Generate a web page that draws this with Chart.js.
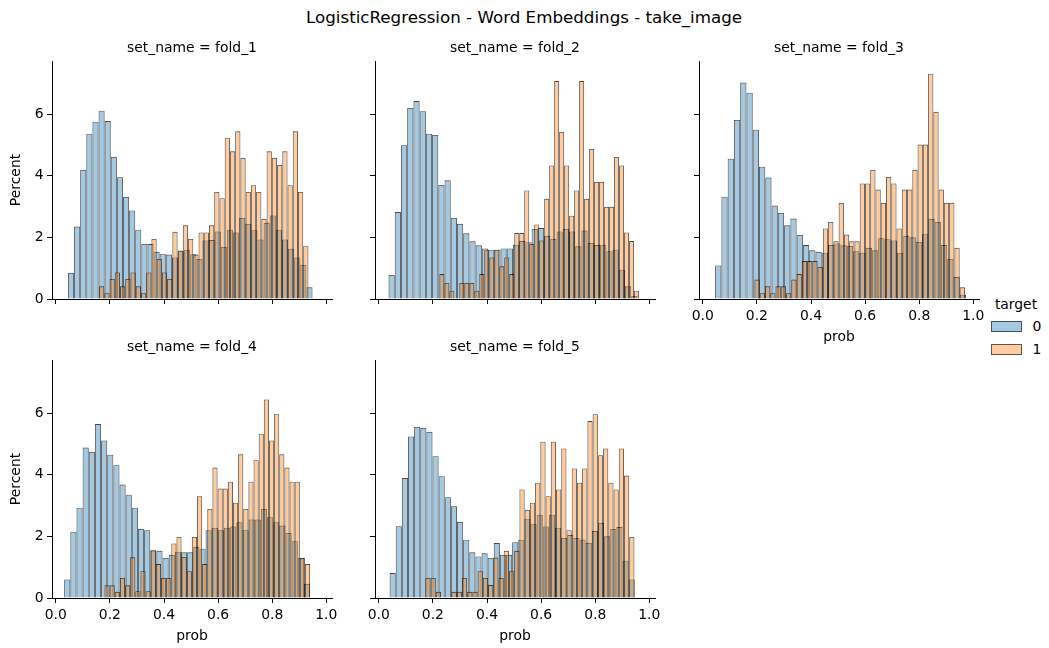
<!DOCTYPE html>
<html lang="en">
<head>
<meta charset="UTF-8">
<title>LogisticRegression - Word Embeddings - take_image</title>
<script src="https://cdn.jsdelivr.net/npm/chart.js"></script>
<style>
    body {
        margin: 0;
        background: #fff;
        font-family: "DejaVu Sans", sans-serif;
    }
    #fig {
        position: relative;
        width: 1049px;
        height: 648px;
        overflow: hidden;
        background: #fff;
    }
    #fig canvas {
        position: absolute;
    }
    .txt {
        position: absolute;
        white-space: nowrap;
        color: #000;
        transform: translate(-50%, -50%);
        font-size: 13.9px;
    }
    .suptitle {
        font-size: 16.7px;
    }
    .patch {
        position: absolute;
        width: 29px;
        height: 9px;
        border: 1px solid rgba(0, 0, 0, 0.6);
    }
</style>
</head>
<body>
<div id="fig">
    <div class="txt suptitle" style="left:524px; top:17px;">LogisticRegression - Word Embeddings - take_image</div>
    <div class="txt" style="left:1016px; top:304px;">target</div>
    <div class="patch" style="left:991px; top:321px; background:rgba(31,119,180,0.4);"></div>
    <div class="txt" style="left:1037px; top:326px;">0</div>
    <div class="patch" style="left:991px; top:344px; background:rgba(255,127,14,0.4);"></div>
    <div class="txt" style="left:1037px; top:349px;">1</div>
</div>

<script>
    // facets, ticks
    const foldNames = ['fold_1', 'fold_2', 'fold_3', 'fold_4', 'fold_5'];
    const xTicks = [0, 0.2, 0.4, 0.6, 0.8, 1.0];
    const yTicks = [0, 2, 4, 6];

    // prob range covered by the 40 bins of each histogram (per fold)
    const binRange0 = [[0.045, 0.949], [0.036, 0.956], [0.0455, 0.973], [0.031, 0.940], [0.040, 0.946]];
    const binRange1 = [[0.160, 0.934], [0.224, 0.962], [0.191, 0.969], [0.180, 0.940], [0.172, 0.945]];

    // percent per bin, target = 0
    const fold1Target0 = [0.85, 2.35, 4.19, 5.36, 5.75, 6.11, 5.77, 4.61, 3.95, 3.31, 2.87, 2.25, 1.79, 1.78, 1.53, 1.47, 1.44, 1.35, 1.55, 1.6, 1.45, 1.30, 1.9, 1.91, 2.19, 1.69, 2.25, 2.16, 2.63, 2.44, 2.23, 1.93, 2.47, 2.71, 2.25, 1.93, 1.63, 1.35, 1.11, 0.38];
    const fold2Target0 = [0.78, 2.82, 4.99, 6.20, 6.42, 6.09, 5.36, 5.32, 3.70, 3.85, 2.63, 2.44, 2.13, 1.87, 1.74, 1.64, 1.60, 1.60, 1.64, 1.64, 1.76, 1.88, 1.84, 2.27, 2.30, 2.05, 1.95, 2.19, 2.27, 2.19, 1.71, 2.22, 1.82, 1.75, 1.76, 1.55, 1.60, 0.95, 0.41, 0.10];
    const fold3Target0 = [1.09, 3.32, 4.55, 5.81, 7.02, 6.69, 5.49, 4.29, 3.94, 3.03, 2.79, 2.39, 2.61, 2.08, 1.75, 1.58, 1.53, 1.50, 1.75, 1.80, 1.74, 1.72, 1.55, 1.50, 1.66, 1.58, 1.97, 1.94, 1.90, 1.50, 2.05, 2.00, 1.85, 2.10, 2.60, 2.50, 1.75, 1.30, 0.71, 0.14];
    const fold4Target0 = [0.60, 2.15, 2.93, 4.88, 4.74, 5.64, 5.11, 4.65, 4.31, 3.68, 3.35, 2.93, 2.24, 2.20, 1.55, 1.53, 1.30, 1.40, 1.50, 1.48, 1.48, 1.66, 1.60, 2.20, 2.28, 2.20, 2.28, 2.32, 2.46, 2.20, 2.55, 2.55, 2.89, 2.62, 2.46, 2.35, 2.11, 1.84, 1.30, 0.46];
    const fold5Target0 = [0.81, 2.33, 3.89, 5.24, 5.55, 5.52, 5.39, 4.60, 3.95, 3.27, 2.98, 2.47, 1.89, 1.48, 1.35, 1.45, 1.30, 1.78, 1.40, 1.40, 1.81, 1.89, 2.57, 2.41, 2.70, 2.32, 2.70, 2.28, 1.95, 2.04, 1.95, 1.90, 1.79, 2.17, 2.44, 2.00, 2.24, 2.30, 1.21, 0.60];

    // percent per bin, target = 1
    const fold1Target1 = [0.41, 0.19, 0.65, 0.86, 0.41, 0.65, 0.86, 0.41, 0.19, 0.86, 1.95, 1.30, 0.86, 0.65, 2.18, 1.57, 2.39, 1.95, 1.44, 2.16, 2.16, 2.39, 3.47, 3.27, 5.23, 4.79, 5.44, 4.58, 3.47, 3.69, 3.47, 2.60, 4.79, 4.58, 4.35, 4.79, 3.69, 5.44, 3.47, 1.73];
    const fold2Target1 = [0.81, 0.52, 0.27, 0, 0.52, 0.52, 0.52, 0.27, 0.81, 1.60, 1.35, 1.60, 1.06, 1.35, 0.81, 2.14, 2.14, 3.52, 1.79, 2.42, 1.90, 3.25, 4.33, 7.07, 5.42, 4.33, 2.70, 3.52, 7.07, 3.25, 4.87, 3.80, 3.80, 2.99, 2.99, 4.61, 4.33, 2.16, 1.88, 0.27];
    const fold3Target1 = [0.63, 0.19, 0.41, 0.19, 0.41, 0.41, 0.19, 0.63, 0.81, 1.23, 1.23, 1.23, 1.04, 2.29, 2.50, 1.87, 3.12, 2.09, 1.87, 1.87, 3.75, 3.75, 4.19, 3.55, 3.12, 3.96, 3.75, 2.29, 3.55, 3.55, 4.19, 5.01, 5.01, 7.31, 6.07, 3.55, 3.12, 3.12, 1.66, 0.38];
    const fold4Target1 = [0.41, 0.41, 0.20, 0.65, 0.41, 1.32, 0.22, 0.87, 0.22, 1.54, 1.10, 0.65, 0.65, 1.77, 1.98, 1.33, 0.87, 1.98, 3.30, 1.10, 2.89, 4.23, 3.55, 3.55, 3.77, 3.09, 4.66, 2.89, 3.77, 4.47, 5.33, 6.44, 5.11, 5.98, 4.66, 4.23, 3.77, 3.77, 1.30, 1.10];
    const fold5Target1 = [0.65, 0.65, 0.20, 0, 0, 0.20, 0.20, 0.65, 0.20, 0.20, 0.87, 0.65, 0.42, 1.31, 0.65, 1.53, 0.87, 1.53, 3.52, 2.86, 3.09, 3.74, 5.07, 3.30, 5.07, 3.52, 4.85, 2.20, 4.20, 3.74, 4.20, 5.74, 5.96, 4.63, 4.85, 3.74, 3.52, 4.85, 3.97, 1.98];

    const target0 = [fold1Target0, fold2Target0, fold3Target0, fold4Target0, fold5Target0];
    const target1 = [fold1Target1, fold2Target1, fold3Target1, fold4Target1, fold5Target1];

    // shared axis limits
    const X_MIN = -0.014, X_MAX = 1.021;
    const Y_MAX = 7.72;

    const BLUE = 'rgba(31, 119, 180, 0.4)';
    const ORANGE = 'rgba(255, 127, 14, 0.4)';
    const EDGE = 'rgba(0, 0, 0, 0.72)';

    // where each facet sits (canvas top-left), which labels it shows
    const panels = [
        { left: 2,   top: 47,  yLabels: true,  xLabels: false },
        { left: 325, top: 47,  yLabels: false, xLabels: false },
        { left: 649, top: 47,  yLabels: false, xLabels: true },
        { left: 2,   top: 346, yLabels: true,  xLabels: true },
        { left: 325, top: 346, yLabels: false, xLabels: true }
    ];
    const Y_AXIS_W = 50, X_AXIS_H = 47, PAD_TOP = 14, PAD_RIGHT = 14;
    const PLOT_W = 280, PLOT_H = 238;

    Chart.defaults.font.family = '"DejaVu Sans", sans-serif';
    Chart.defaults.color = '#000';

    const fig = document.getElementById('fig');

    // bins -> {x: bin centre, y: percent}
    function toPoints(values, range) {
        const w = (range[1] - range[0]) / values.length;
        return values.map((v, i) => ({ x: range[0] + (i + 0.5) * w, y: v }));
    }

    function tickFont() {
        return { size: 13.9, family: '"DejaVu Sans", sans-serif' };
    }

    function makePanel(i) {
        const p = panels[i];
        const canvas = document.createElement('canvas');
        canvas.width = Y_AXIS_W + PLOT_W + PAD_RIGHT;
        canvas.height = PAD_TOP + PLOT_H + X_AXIS_H;
        canvas.style.left = p.left + 'px';
        canvas.style.top = p.top + 'px';
        fig.appendChild(canvas);

        // panel title
        const t = document.createElement('div');
        t.className = 'txt';
        t.textContent = 'set_name = ' + foldNames[i];
        t.style.left = (p.left + Y_AXIS_W + PLOT_W / 2) + 'px';
        t.style.top = (p.top + 0) + 'px';
        fig.appendChild(t);

        const tickGrid = { display: true, drawOnChartArea: false, drawTicks: true, tickLength: 5, tickWidth: 1, color: '#000', offset: false };
        const axisBorder = { display: true, color: '#000', width: 1 };

        new Chart(canvas, {
            type: 'bar',
            data: {
                datasets: [
                    {
                        label: '1',
                        data: toPoints(target1[i], binRange1[i]),
                        xAxisID: 'x1',
                        backgroundColor: ORANGE,
                        borderColor: EDGE,
                        borderWidth: 0.85,
                        order: 0
                    },
                    {
                        label: '0',
                        data: toPoints(target0[i], binRange0[i]),
                        xAxisID: 'x',
                        backgroundColor: BLUE,
                        borderColor: EDGE,
                        borderWidth: 0.85,
                        order: 1
                    }
                ]
            },
            options: {
                responsive: false,
                animation: false,
                devicePixelRatio: 1,
                layout: { padding: { top: PAD_TOP, right: PAD_RIGHT, left: 0, bottom: 0 } },
                plugins: { legend: { display: false }, tooltip: { enabled: false }, title: { display: false } },
                datasets: { bar: { grouped: false, barPercentage: 1, categoryPercentage: 1, inflateAmount: 0 } },
                scales: {
                    x: {
                        type: 'linear',
                        position: 'bottom',
                        min: X_MIN,
                        max: X_MAX,
                        offset: false,
                        afterBuildTicks: s => { s.ticks = xTicks.map(v => ({ value: v })); },
                        afterFit: s => { s.height = X_AXIS_H; },
                        grid: tickGrid,
                        border: axisBorder,
                        ticks: {
                            display: p.xLabels,
                            autoSkip: false,
                            maxRotation: 0,
                            padding: 4,
                            font: tickFont(),
                            callback: v => Number(v).toFixed(1)
                        },
                        title: {
                            display: p.xLabels,
                            text: 'prob',
                            font: tickFont(),
                            padding: { top: 0, bottom: 0 }
                        }
                    },
                    x1: {
                        type: 'linear',
                        display: false,
                        min: X_MIN,
                        max: X_MAX,
                        offset: false
                    },
                    y: {
                        min: 0,
                        max: Y_MAX,
                        afterBuildTicks: s => { s.ticks = yTicks.map(v => ({ value: v })); },
                        afterFit: s => { s.width = Y_AXIS_W; },
                        grid: tickGrid,
                        border: axisBorder,
                        ticks: {
                            display: p.yLabels,
                            padding: 3.5,
                            font: tickFont(),
                            callback: v => String(v)
                        },
                        title: {
                            display: p.yLabels,
                            text: 'Percent',
                            font: tickFont(),
                            padding: { top: 6, bottom: 0 }
                        }
                    }
                }
            }
        });
    }

    foldNames.forEach((f, i) => makePanel(i));
</script>
</body>
</html>
